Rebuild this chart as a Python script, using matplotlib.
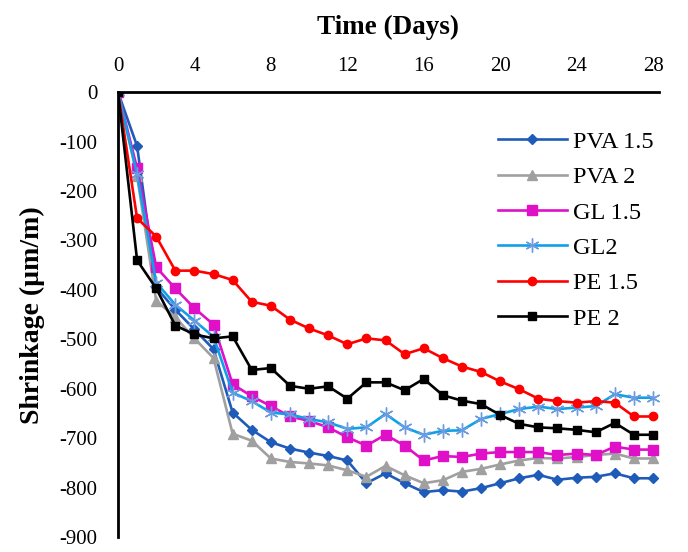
import matplotlib
matplotlib.use("Agg")
import matplotlib.pyplot as plt

plt.rcParams['font.family'] = ['Liberation Serif', 'DejaVu Serif']
plt.rcParams['axes.unicode_minus'] = False

days = list(range(0, 29))

pva15 = [0, -109, -395, -440, -480, -520, -648, -683, -708, -721, -729, -736, -745, -791, -771,
         -791, -809, -805, -808, -801, -791, -781, -774, -784, -780, -778, -771, -781, -781]
pva2 = [0, -170, -422, -455, -498, -538, -691, -705, -741, -748, -751, -755, -765, -778, -756,
        -775, -791, -785, -768, -762, -753, -745, -740, -741, -738, -734, -731, -741, -741]
gl15 = [0, -154, -354, -397, -437, -470, -591, -615, -635, -656, -665, -678, -698, -715, -693,
        -715, -745, -736, -738, -731, -728, -728, -728, -734, -731, -734, -717, -723, -723]
gl2 = [0, -166, -385, -430, -462, -495, -608, -625, -648, -652, -661, -668, -681, -678, -651,
       -678, -693, -685, -684, -661, -651, -641, -636, -641, -638, -635, -611, -618, -618]
pe15 = [0, -255, -292, -361, -361, -368, -380, -424, -432, -460, -478, -492, -510, -498, -502,
        -530, -518, -538, -555, -566, -585, -601, -620, -625, -628, -625, -628, -656, -656]
pe2 = [0, -340, -397, -472, -490, -498, -494, -562, -558, -594, -600, -595, -620, -587, -587,
       -603, -580, -613, -624, -631, -653, -671, -678, -680, -683, -688, -669, -693, -693]

labels = ['PVA 1.5', 'PVA 2', 'GL 1.5', 'GL2', 'PE 1.5', 'PE 2']
xticks = [0, 4, 8, 12, 16, 20, 24, 28]
yticks = list(range(0, -1000, -100))

fig = plt.figure(figsize=(6.88, 5.52), dpi=100)
ax = fig.add_axes([0.1715, 0.027, 0.786, 0.806])

lw = 1.9
ax.plot(days, pva15, color='#1f5bb8', lw=lw, marker='D', ms=5, label=labels[0])
ax.plot(days, pva2, color='#a0a0a0', lw=lw, marker='^', ms=7, label=labels[1])
ax.plot(days, gl15, color='#e010c8', lw=lw, marker='s', ms=7, label=labels[2])
ax.plot(days, gl2, color='#10a0e8', lw=lw, marker=(6, 2, 0), ms=10, mec='#6c9be0',
        mew=1.0, label=labels[3])
ax.plot(days, pe15, color='#ff0000', lw=lw, marker='o', ms=6, label=labels[4])
ax.plot(days, pe2, color='#000000', lw=lw, marker='s', ms=6, label=labels[5])

ax.set_xlim(0, 28.3)
ax.set_ylim(-900, 0)
ax.set_xticks(xticks)
ax.set_yticks(yticks)
ax.xaxis.tick_top()
ax.xaxis.set_label_position('top')
ax.tick_params(axis='both', length=0, labelsize=15)
ax.tick_params(axis='x', pad=12)
ax.tick_params(axis='y', pad=15)

for side in ['right', 'bottom']:
    ax.spines[side].set_visible(False)
ax.spines['left'].set_linewidth(2)
ax.spines['top'].set_linewidth(2)

ax.set_xlabel('Time (Days)', fontsize=19.5, fontweight='bold', labelpad=16)
ax.set_ylabel('Shrinkage (µm/m)', fontsize=20, fontweight='bold', labelpad=10)

ax.legend(loc='upper left', bbox_to_anchor=(0.684, 0.935), frameon=False, fontsize=17.5,
          handlelength=2.85, labelspacing=0.55, handletextpad=0.25, borderaxespad=0)

fig.savefig('out.png', dpi=100)
